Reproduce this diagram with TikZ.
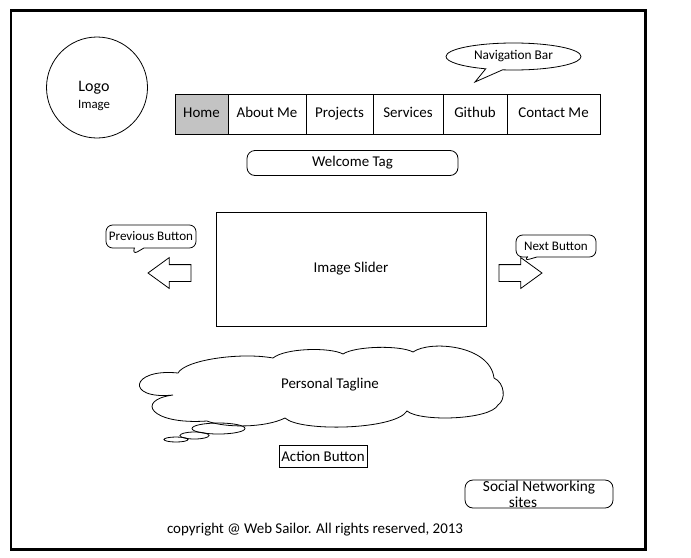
\documentclass[tikz,border=0pt]{standalone}
\usepackage{fontspec}
\setmainfont{Carlito}
\usepackage{tikz}
\usetikzlibrary{positioning,shapes.geometric,shapes.callouts,shapes.arrows}
\definecolor{homegray}{HTML}{C3C3C3}
\newcommand{\pxu}{0.75pt}

\begin{document}
\begin{tikzpicture}[x=0.75pt,y=-0.75pt,line width=0.6pt,
  every node/.style={font=\fontsize{11.2}{13}\selectfont},
  navcell/.style={draw,minimum height=40*\pxu,inner sep=0pt,outer sep=0pt,text height=1.6ex,text depth=.5ex},
  tagbox/.style={draw,rounded corners=6pt,inner sep=0pt},
  flatbox/.style={draw,inner sep=0pt},
  tipbox/.style={draw,rectangle callout,rounded corners=5pt,inner sep=0pt,font=\fontsize{9.8}{11}\selectfont},
  slidearrow/.style={draw,single arrow,inner sep=0pt,outer sep=0pt,text height=8*\pxu,text depth=8*\pxu,minimum height=43*\pxu,
    single arrow head extend=7*\pxu,single arrow tip angle=72,anchor=tip}]
  \useasboundingbox (0,0) rectangle (691,557);
  \draw[line width=2.2pt] (11,10.5) rectangle (645.5,549.5);

  \node[draw,circle,minimum size=101*\pxu] (logo) at (97,87.5) {};
  \node[align=center,font=\fontsize{12}{12.75}\selectfont] (logotext) at (94,95.5) {Logo\\{\fontsize{9.6}{12.75}\selectfont Image}};

  \node[draw,ellipse callout,minimum width=135*\pxu,minimum height=27*\pxu,inner sep=0pt,
    callout absolute pointer={(475,82)},font=\fontsize{10}{12}\selectfont] (navtip) at (513.5,56.5) {Navigation Bar};

  \node[navcell,fill=homegray,minimum width=53*\pxu] (home) at (201.5,114) {Home};
  \node[navcell,minimum width=78*\pxu,right=0pt of home] (about) {About Me};
  \node[navcell,minimum width=67*\pxu,right=0pt of about] (projects) {Projects};
  \node[navcell,minimum width=70*\pxu,right=0pt of projects] (services) {Services};
  \node[navcell,minimum width=64*\pxu,right=0pt of services] (github) {Github};
  \node[navcell,minimum width=93*\pxu,right=0pt of github] (contact) {Contact Me};

  \node[tagbox,minimum width=211*\pxu,minimum height=25*\pxu] (welcome) at (352.5,163) {Welcome Tag};

  \node[flatbox,minimum width=270*\pxu,minimum height=114*\pxu] (slider) at (351,269) {Image Slider};
  \node[tipbox,minimum width=90*\pxu,minimum height=23*\pxu,callout absolute pointer={(132,255)}] (prevtip) at (151,236.5) {Previous Button};
  \node[tipbox,minimum width=80*\pxu,minimum height=22*\pxu,callout absolute pointer={(523,261)}] (nexttip) at (556,246) {Next Button};
  \node[slidearrow,shape border rotate=180] (prev) at (148,273) {};
  \node[slidearrow] (next) at (542,273) {};

  \draw (178,373) .. controls (185,360) and (240,352) .. (273,358)
    .. controls (285,348) and (330,347) .. (343,354)
    .. controls (355,346) and (400,345) .. (413,352)
    .. controls (430,340) and (490,345) .. (494,378)
    .. controls (505,383) and (506,400) .. (498,405)
    .. controls (490,420) and (420,422) .. (407,411)
    .. controls (395,430) and (300,432) .. (285,418)
    .. controls (265,428) and (225,428) .. (207,421)
    .. controls (150,425) and (135,400) .. (173,395)
    .. controls (125,400) and (130,368) .. (178,373) -- cycle;
  \node (tagline) at (330,385) {Personal Tagline};
  \draw (218.5,428.5) ellipse [x radius=26.5,y radius=5.5];
  \draw (194.5,435.5) ellipse [x radius=14.5,y radius=3.5];
  \draw (176,439.5) ellipse [x radius=12,y radius=2.5];

  \node[flatbox,minimum width=88*\pxu,minimum height=22*\pxu] (action) at (323,456) {Action Button};
  \node[tagbox,minimum width=148*\pxu,minimum height=28*\pxu] (social) at (539,494) {};
  \node[align=center,font=\fontsize{11.5}{12}\selectfont] (socialtext) at (social.center) {Social Networking\\\hspace*{-24pt}sites};

  \node (copyright) at (315,530) {copyright @ Web Sailor. All rights reserved, 2013};
\end{tikzpicture}
\end{document}
